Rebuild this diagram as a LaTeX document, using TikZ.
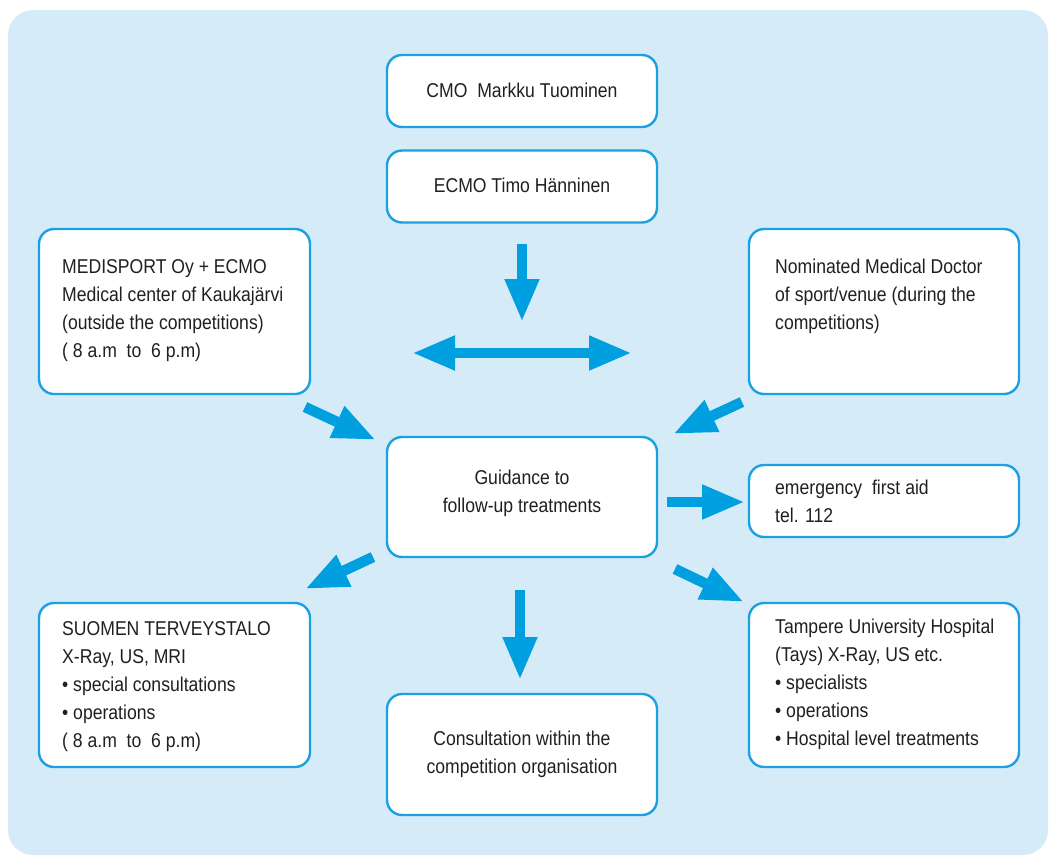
\documentclass[tikz,border=0pt]{standalone}
\usepackage{fontspec}
\setmainfont[FakeStretch=0.88]{Liberation Sans}
\usetikzlibrary{arrows.meta}
\definecolor{bgblue}{HTML}{D6EBF8}
\definecolor{arrowblue}{HTML}{009FE0}
\definecolor{edgeblue}{HTML}{1BA1E2}
\definecolor{txt}{HTML}{231F20}
\tikzset{
  box/.style={draw=edgeblue, line width=2.4pt, fill=white, rounded corners=15pt, inner sep=0pt, rectangle},
  boxtext/.style={inner sep=0pt, text=txt, font=\fontsize{20pt}{28pt}\selectfont},
  ltext/.style={boxtext, align=left, anchor=base west},
  ctext/.style={boxtext, align=center, anchor=base},
  bigarrow/.style={draw=arrowblue, line width=10.5pt, line cap=butt,
    -{Triangle[length=43pt,width=32pt]}},
  dblarrow/.style={draw=arrowblue, line width=10.5pt, line cap=butt,
    {Triangle[length=43pt,width=32pt]}-{Triangle[length=43pt,width=32pt]}}
}
\begin{document}
\begin{tikzpicture}[x=1pt,y=-1pt]
\useasboundingbox (0,0) rectangle (1049,855);
\fill[bgblue, rounded corners=25pt] (8,10) rectangle (1048,855);

% boxes
\node[box, minimum width=270pt, minimum height=72pt] (cmo) at (522,91) {};
\node[box, minimum width=270pt, minimum height=72pt] (ecmo) at (522,186.5) {};
\node[box, minimum width=271pt, minimum height=165pt] (medi) at (174.5,311.5) {};
\node[box, minimum width=270pt, minimum height=165pt] (nomi) at (884,311.5) {};
\node[box, minimum width=270pt, minimum height=120pt] (guid) at (522,497) {};
\node[box, minimum width=270pt, minimum height=72pt] (emer) at (884,501) {};
\node[box, minimum width=271pt, minimum height=164pt] (suom) at (174.5,685) {};
\node[box, minimum width=270pt, minimum height=121pt] (cons) at (522,754.5) {};
\node[box, minimum width=270pt, minimum height=164pt] (tamp) at (884,685) {};

% texts (anchor = baseline of the last line)
\node[ctext] (cmot) at (522,97) {CMO\ \ Markku Tuominen};
\node[ctext] (ecmot) at (522,192) {ECMO Timo Hänninen};
\node[ltext] (medit) at (62,357) {MEDISPORT Oy + ECMO\\Medical center of Kaukajärvi\\(outside the competitions)\\( 8 a.m\ \ to\ \ 6 p.m)};
\node[ltext] (nomit) at (775,329) {Nominated Medical Doctor\\of sport/venue (during the\\competitions)};
\node[ctext] (guidt) at (522,512) {Guidance to\\follow-up treatments};
\node[ltext] (emert) at (775,522) {emergency\ \ first aid\\tel. 112};
\node[ltext] (suomt) at (62,747) {SUOMEN TERVEYSTALO\\X-Ray, US, MRI\\• special consultations\\• operations\\( 8 a.m\ \ to\ \ 6 p.m)};
\node[ctext] (const) at (522,773) {Consultation within the\\competition organisation};
\node[ltext] (tampt) at (775,745) {Tampere University Hospital\\(Tays) X-Ray, US etc.\\• specialists\\• operations\\• Hospital level treatments};

% arrow end points
\coordinate (d1s) at (522,244);
\coordinate (d1e) at (522,322);
\coordinate (h1s) at (412,353);
\coordinate (h1e) at (632,353);
\coordinate (m1s) at (305,407);
\coordinate (m1e) at (376,440);
\coordinate (n1s) at (742,402);
\coordinate (n1e) at (673,434);
\coordinate (e1s) at (667,502);
\coordinate (e1e) at (745,502);
\coordinate (s1s) at (373,557);
\coordinate (s1e) at (305,589);
\coordinate (c1s) at (520,590);
\coordinate (c1e) at (520,680);
\coordinate (t1s) at (675,569);
\coordinate (t1e) at (744,602);

% arrows
\draw[bigarrow] (d1s) -- (d1e);
\draw[dblarrow] (h1s) -- (h1e);
\draw[bigarrow] (m1s) -- (m1e);
\draw[bigarrow] (n1s) -- (n1e);
\draw[bigarrow] (e1s) -- (e1e);
\draw[bigarrow] (s1s) -- (s1e);
\draw[bigarrow] (c1s) -- (c1e);
\draw[bigarrow] (t1s) -- (t1e);
\end{tikzpicture}
\end{document}
